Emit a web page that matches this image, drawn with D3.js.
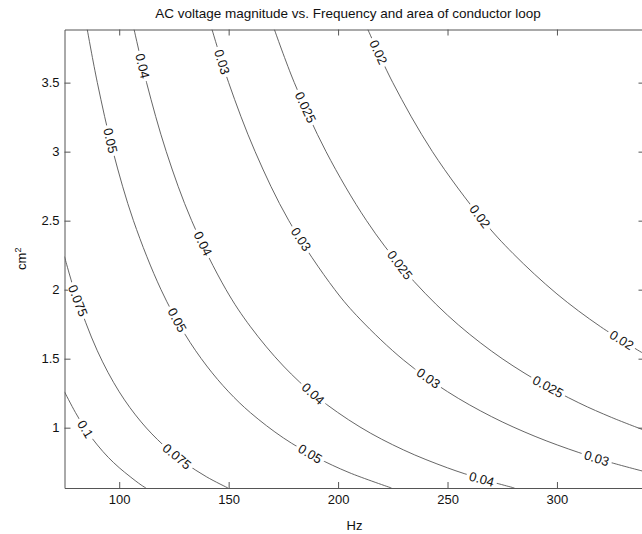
<!DOCTYPE html>
<html>
<head>
<meta charset="utf-8">
<script src="https://cdn.jsdelivr.net/npm/d3@7"></script>
<style>
  body { margin: 0; background: #fff; }
  svg { display: block; font-family: "Liberation Sans", Arial, sans-serif; }
  .axis text { fill: #111; font-size: 13px; font-family: "Liberation Sans", Arial, sans-serif; }
  .axis path, .axis line { stroke: #555; }
</style>
</head>
<body>
<svg id="chart"></svg>
<script>
// contour levels (V) and the traced lines, [frequency Hz, area cm^2]
const levels = [0.1, 0.075, 0.05, 0.04, 0.03, 0.025, 0.02];

const contour010 = [[75, 1.26], [80, 1.11], [85, 0.98], [90, 0.875], [95, 0.785], [100, 0.71],
  [105, 0.645], [110, 0.585], [112.2, 0.563]];
const contour0075 = [[75, 2.24], [80, 1.97], [90, 1.557], [100, 1.26], [110, 1.042], [120, 0.876],
  [130, 0.746], [140, 0.643], [149.7, 0.563]];
const contour005 = [[85.4, 3.885], [90, 3.5], [97.2, 3.0], [106.5, 2.5], [119.1, 2.0], [130, 1.678],
  [140, 1.447], [150, 1.26], [160, 1.108], [175, 0.926], [190, 0.786], [205, 0.675], [224.4, 0.563]];
const contour004 = [[106.8, 3.885], [112.5, 3.5], [121.5, 3.0], [133.1, 2.5], [148.8, 2.0], [160, 1.731],
  [175, 1.447], [190, 1.227], [210, 1.005], [230, 0.838], [250, 0.709], [265, 0.631], [280.6, 0.563]];
const contour003 = [[142.4, 3.885], [150, 3.5], [162.1, 3.0], [177.5, 2.5], [198.5, 2.0], [210, 1.787],
  [230, 1.489], [250, 1.261], [270, 1.081], [290, 0.937], [310, 0.82], [325, 0.746], [340, 0.682]];
const contour0025 = [[170.9, 3.885], [180, 3.5], [194.5, 3.0], [213, 2.5], [230, 2.144], [250, 1.815],
  [270, 1.556], [290, 1.349], [310, 1.18], [325, 1.074], [340, 0.981]];
const contour002 = [[213.6, 3.885], [225, 3.5], [243.1, 3.0], [266.3, 2.5], [280, 2.261], [300, 1.969],
  [320, 1.731], [340, 1.533]];

const contourLines = [contour010, contour0075, contour005, contour004, contour003, contour0025, contour002];

// inline labels: level and where it sits
const labelLevels = [0.1, 0.075, 0.075, 0.05, 0.05, 0.05, 0.04, 0.04, 0.04, 0.04,
  0.03, 0.03, 0.03, 0.03, 0.025, 0.025, 0.025, 0.02, 0.02, 0.02];
const labelFreqs = [84.5, 126.3, 81, 96, 126.3, 187.2, 110.5, 137.8, 188.6, 265.6,
  146.9, 182.6, 241.1, 318.1, 184.9, 228.3, 295.9, 218.4, 264.8, 329.5];
const labelAreas = [0.99, 0.79, 1.92, 3.08, 1.778, 0.81, 3.62, 2.33, 1.246, 0.628,
  3.65, 2.36, 1.355, 0.779, 3.32, 2.18, 1.296, 3.72, 2.53, 1.633];

const xTicks = [100, 150, 200, 250, 300];
const yTicks = [1, 1.5, 2, 2.5, 3, 3.5];

class ContourChart {

  constructor(_config) {
    this.config = {
      parentElement: _config.parentElement,
      containerWidth: _config.containerWidth || 642,
      containerHeight: _config.containerHeight || 534,
      margin: _config.margin || {top: 29.5, right: -2.5, bottom: 46, left: 64.5}
    };
    this.initVis();
  }

  initVis() {
    let vis = this;

    vis.width = vis.config.containerWidth - vis.config.margin.left - vis.config.margin.right;
    vis.height = vis.config.containerHeight - vis.config.margin.top - vis.config.margin.bottom;

    vis.xScale = d3.scaleLinear().domain([75, 340]).range([0, vis.width]);
    vis.yScale = d3.scaleLinear().domain([0.563, 3.885]).range([vis.height, 0]);

    vis.svg = d3.select(vis.config.parentElement)
      .attr('width', vis.config.containerWidth)
      .attr('height', vis.config.containerHeight);

    vis.svg.append('text')
      .attr('x', 348)
      .attr('y', 18)
      .attr('text-anchor', 'middle')
      .attr('font-size', '13.5px')
      .attr('fill', '#111')
      .text('AC voltage magnitude vs. Frequency and area of conductor loop');

    vis.chart = vis.svg.append('g')
      .attr('transform', `translate(${vis.config.margin.left},${vis.config.margin.top})`);

    vis.chart.append('clipPath').attr('id', 'plot-clip')
      .append('rect').attr('width', vis.width).attr('height', vis.height);

    // axes, ticks pointing inward like matlab
    vis.xAxis = d3.axisBottom(vis.xScale).tickValues(xTicks).tickSizeInner(-6).tickSizeOuter(0)
      .tickPadding(7).tickFormat(d3.format(''));
    vis.yAxis = d3.axisLeft(vis.yScale).tickValues(yTicks).tickSizeInner(-6).tickSizeOuter(0)
      .tickPadding(5).tickFormat(d3.format(''));
    vis.xAxisTop = d3.axisTop(vis.xScale).tickValues(xTicks).tickSizeInner(-6).tickSizeOuter(0).tickFormat('');
    vis.yAxisRight = d3.axisRight(vis.yScale).tickValues(yTicks).tickSizeInner(-6).tickSizeOuter(0).tickFormat('');

    vis.chart.append('g').attr('class', 'axis x-axis')
      .attr('transform', `translate(0,${vis.height})`).call(vis.xAxis);
    vis.chart.append('g').attr('class', 'axis y-axis').call(vis.yAxis);
    vis.chart.append('g').attr('class', 'axis').call(vis.xAxisTop);
    vis.chart.append('g').attr('class', 'axis')
      .attr('transform', `translate(${vis.width},0)`).call(vis.yAxisRight);
    vis.chart.selectAll('.axis').attr('font-family', null).attr('font-size', null);

    vis.svg.append('text')
      .attr('x', vis.config.margin.left + vis.width / 2)
      .attr('y', 530)
      .attr('text-anchor', 'middle')
      .attr('font-size', '13px')
      .attr('fill', '#111')
      .text('Hz');

    const yLab = vis.svg.append('text')
      .attr('transform', `translate(26,${vis.config.margin.top + vis.height / 2}) rotate(-90)`)
      .attr('text-anchor', 'middle')
      .attr('font-size', '13px')
      .attr('fill', '#111');
    yLab.append('tspan').text('cm');
    yLab.append('tspan').attr('font-size', '9px').attr('dy', '-5').text('2');

    vis.renderVis();
  }

  renderVis() {
    let vis = this;

    const line = d3.line()
      .x(d => vis.xScale(d[0]))
      .y(d => vis.yScale(d[1]))
      .curve(d3.curveCatmullRom);

    const plot = vis.chart.append('g').attr('clip-path', 'url(#plot-clip)');

    plot.selectAll('.contour')
      .data(contourLines)
      .join('path')
      .attr('class', 'contour')
      .attr('d', line)
      .attr('fill', 'none')
      .attr('stroke', '#555')
      .attr('stroke-width', 0.9);

    // put each label on its line, rotated with the local slope
    const labels = labelLevels.map((lv, i) => {
      const pts = contourLines[levels.indexOf(lv)].map(d => [vis.xScale(d[0]), vis.yScale(d[1])]);
      const px = vis.xScale(labelFreqs[i]), py = vis.yScale(labelAreas[i]);
      let best = {dist: Infinity};
      for (let k = 0; k < pts.length - 1; k++) {
        const [x0, y0] = pts[k], [x1, y1] = pts[k + 1];
        const dx = x1 - x0, dy = y1 - y0;
        let t = ((px - x0) * dx + (py - y0) * dy) / (dx * dx + dy * dy);
        t = Math.max(0, Math.min(1, t));
        const qx = x0 + t * dx, qy = y0 + t * dy;
        const dist = Math.hypot(px - qx, py - qy);
        if (dist < best.dist) best = {dist, x: qx, y: qy, angle: Math.atan2(dy, dx) * 180 / Math.PI};
      }
      return {text: String(lv), x: best.x, y: best.y, angle: best.angle};
    });

    const lg = plot.selectAll('.clabel')
      .data(labels)
      .join('g')
      .attr('class', 'clabel')
      .attr('transform', d => `translate(${d.x},${d.y}) rotate(${d.angle})`);

    lg.append('text')
      .attr('text-anchor', 'middle')
      .attr('dy', '0.36em')
      .attr('font-size', '13px')
      .attr('fill', '#111')
      .text(d => d.text);

    lg.each(function() {
      const g = d3.select(this);
      const bb = g.select('text').node().getBBox();
      g.insert('rect', 'text')
        .attr('x', bb.x - 3)
        .attr('y', bb.y + 2)
        .attr('width', bb.width + 6)
        .attr('height', bb.height - 4)
        .attr('fill', '#fff');
    });
  }
}

new ContourChart({parentElement: '#chart'});
</script>
</body>
</html>
